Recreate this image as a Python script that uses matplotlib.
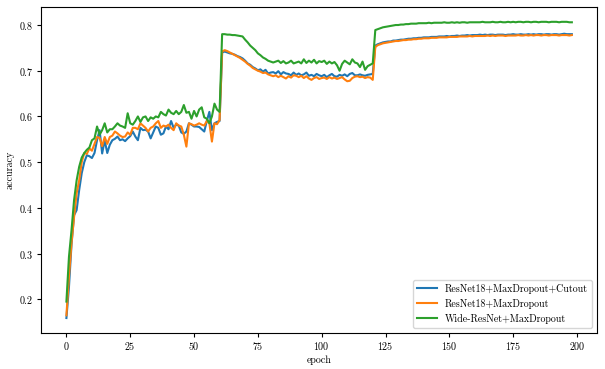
import numpy as np
import matplotlib
matplotlib.use("Agg")
import matplotlib.pyplot as plt

plt.rcParams['font.family'] = ['cmr10', 'DejaVu Serif']
plt.rcParams['axes.formatter.use_mathtext'] = True
plt.rcParams['font.size'] = 7.2
plt.rcParams['xtick.major.pad'] = 2.5
plt.rcParams['ytick.major.pad'] = 2.5
plt.rcParams['xtick.major.size'] = 3
plt.rcParams['ytick.major.size'] = 3

# -----------------------------
# Data
# -----------------------------
cutout = [
    0.159, 0.227, 0.320, 0.384, 0.395, 0.439, 0.476, 0.500, 0.515, 0.513,
    0.509, 0.520, 0.548, 0.570, 0.519, 0.548, 0.520, 0.538, 0.548, 0.551,
    0.556, 0.548, 0.550, 0.546, 0.552, 0.557, 0.567, 0.556, 0.548, 0.575,
    0.570, 0.571, 0.567, 0.552, 0.565, 0.578, 0.575, 0.560, 0.563, 0.578,
    0.572, 0.590, 0.575, 0.582, 0.580, 0.565, 0.562, 0.567, 0.585, 0.582,
    0.578, 0.578, 0.577, 0.572, 0.567, 0.590, 0.610, 0.570, 0.585, 0.588,
    0.590,
    0.740, 0.742, 0.740, 0.738, 0.737, 0.735, 0.732, 0.730, 0.727, 0.722,
    0.716, 0.713, 0.708, 0.705, 0.701, 0.703, 0.698, 0.702, 0.694, 0.696,
    0.697, 0.694, 0.699, 0.692, 0.697, 0.694, 0.693, 0.690, 0.696, 0.691,
    0.694, 0.690, 0.692, 0.696, 0.689, 0.691, 0.688, 0.693, 0.690, 0.688,
    0.691, 0.686, 0.690, 0.693, 0.688, 0.687, 0.691, 0.689, 0.692, 0.688,
    0.693, 0.695, 0.690, 0.690, 0.692, 0.690, 0.689, 0.691, 0.692, 0.693,
    0.755, 0.758, 0.760, 0.762, 0.763, 0.764, 0.764, 0.766, 0.766, 0.767,
    0.768, 0.768, 0.769, 0.770, 0.770, 0.771, 0.771, 0.772, 0.772, 0.773,
    0.773, 0.773, 0.774, 0.774, 0.774, 0.775, 0.775, 0.775, 0.776, 0.775,
    0.776, 0.776, 0.777, 0.776, 0.777, 0.777, 0.778, 0.777, 0.778, 0.778,
    0.778, 0.779, 0.778, 0.779, 0.778, 0.779, 0.779, 0.778, 0.779, 0.779,
    0.779, 0.778, 0.779, 0.779, 0.780, 0.779, 0.779, 0.780, 0.779, 0.779,
    0.780, 0.779, 0.780, 0.779, 0.780, 0.780, 0.779, 0.780, 0.780, 0.779,
    0.780, 0.780, 0.779, 0.780, 0.781, 0.780, 0.780, 0.780,
]

maxdropout = [
    0.165, 0.249, 0.323, 0.380, 0.432, 0.460, 0.500, 0.520, 0.518, 0.530,
    0.525, 0.540, 0.555, 0.553, 0.535, 0.555, 0.540, 0.555, 0.558, 0.567,
    0.563, 0.558, 0.555, 0.556, 0.565, 0.560, 0.575, 0.575, 0.572, 0.585,
    0.580, 0.575, 0.567, 0.575, 0.578, 0.585, 0.590, 0.575, 0.580, 0.578,
    0.582, 0.575, 0.570, 0.585, 0.580, 0.578, 0.560, 0.534, 0.585, 0.583,
    0.580, 0.582, 0.585, 0.582, 0.580, 0.590, 0.585, 0.545, 0.585, 0.583,
    0.592,
    0.742, 0.745, 0.743, 0.740, 0.737, 0.734, 0.731, 0.728, 0.724, 0.720,
    0.715, 0.711, 0.706, 0.703, 0.700, 0.698, 0.695, 0.696, 0.692, 0.690,
    0.688, 0.690, 0.686, 0.689, 0.686, 0.683, 0.688, 0.685, 0.690, 0.689,
    0.686, 0.689, 0.684, 0.688, 0.683, 0.680, 0.684, 0.686, 0.682, 0.684,
    0.685, 0.682, 0.686, 0.683, 0.685, 0.682, 0.684, 0.686, 0.681, 0.677,
    0.678, 0.684, 0.687, 0.688, 0.686, 0.687, 0.684, 0.686, 0.685, 0.680,
    0.752, 0.756, 0.758, 0.760, 0.761, 0.762, 0.763, 0.764, 0.765, 0.765,
    0.766, 0.767, 0.767, 0.768, 0.768, 0.769, 0.769, 0.770, 0.770, 0.771,
    0.771, 0.771, 0.772, 0.772, 0.772, 0.773, 0.773, 0.773, 0.773, 0.774,
    0.774, 0.774, 0.774, 0.775, 0.775, 0.775, 0.775, 0.776, 0.775, 0.776,
    0.776, 0.776, 0.776, 0.776, 0.777, 0.776, 0.777, 0.776, 0.777, 0.777,
    0.777, 0.776, 0.777, 0.777, 0.777, 0.777, 0.778, 0.777, 0.777, 0.778,
    0.777, 0.778, 0.777, 0.778, 0.778, 0.777, 0.778, 0.778, 0.777, 0.778,
    0.778, 0.778, 0.777, 0.778, 0.778, 0.778, 0.777, 0.778,
]

wide = [
    0.195, 0.293, 0.351, 0.417, 0.460, 0.490, 0.510, 0.520, 0.527, 0.532,
    0.548, 0.552, 0.578, 0.560, 0.570, 0.585, 0.565, 0.572, 0.572, 0.578,
    0.585, 0.580, 0.578, 0.575, 0.607, 0.585, 0.582, 0.590, 0.600, 0.588,
    0.598, 0.600, 0.590, 0.598, 0.595, 0.600, 0.598, 0.610, 0.605, 0.602,
    0.615, 0.608, 0.605, 0.612, 0.605, 0.610, 0.625, 0.608, 0.610, 0.595,
    0.612, 0.600, 0.615, 0.620, 0.598, 0.595, 0.585, 0.600, 0.628, 0.615,
    0.610,
    0.780, 0.780, 0.779, 0.779, 0.778, 0.778, 0.777, 0.776, 0.775, 0.768,
    0.762, 0.755, 0.750, 0.745, 0.738, 0.734, 0.729, 0.726, 0.722, 0.720,
    0.718, 0.720, 0.722, 0.717, 0.721, 0.716, 0.718, 0.722, 0.716, 0.718,
    0.720, 0.716, 0.725, 0.717, 0.722, 0.718, 0.724, 0.716, 0.721, 0.719,
    0.722, 0.715, 0.720, 0.716, 0.719, 0.712, 0.700, 0.715, 0.722, 0.718,
    0.714, 0.725, 0.718, 0.716, 0.708, 0.720, 0.702, 0.710, 0.713, 0.716,
    0.789, 0.791, 0.793, 0.795, 0.796, 0.797, 0.798, 0.799, 0.800, 0.800,
    0.801, 0.801, 0.802, 0.802, 0.803, 0.803, 0.803, 0.804, 0.804, 0.804,
    0.804, 0.805, 0.804, 0.805, 0.805, 0.805, 0.805, 0.806, 0.805, 0.805,
    0.806, 0.805, 0.806, 0.805, 0.806, 0.806, 0.805, 0.806, 0.806, 0.806,
    0.806, 0.806, 0.807, 0.806, 0.806, 0.806, 0.807, 0.806, 0.806, 0.807,
    0.806, 0.806, 0.807, 0.806, 0.807, 0.806, 0.807, 0.807, 0.806, 0.807,
    0.807, 0.806, 0.807, 0.807, 0.806, 0.807, 0.807, 0.807, 0.806, 0.807,
    0.807, 0.807, 0.806, 0.807, 0.807, 0.807, 0.806, 0.806,
]

labels = ["ResNet18+MaxDropout+Cutout", "ResNet18+MaxDropout", "Wide-ResNet+MaxDropout"]

epochs = np.arange(len(cutout))

# -----------------------------
# Plot
# -----------------------------
fig = plt.figure(figsize=(6.05, 3.69), dpi=100)
ax = fig.add_axes([0.068, 0.098, 0.919, 0.883])

ax.plot(epochs, cutout, label=labels[0])
ax.plot(epochs, maxdropout, label=labels[1])
ax.plot(epochs, wide, label=labels[2])

ax.set_xlabel("epoch", labelpad=2)
ax.set_ylabel("accuracy", labelpad=3)
ax.legend(loc="lower right")

fig.savefig("out.png")
